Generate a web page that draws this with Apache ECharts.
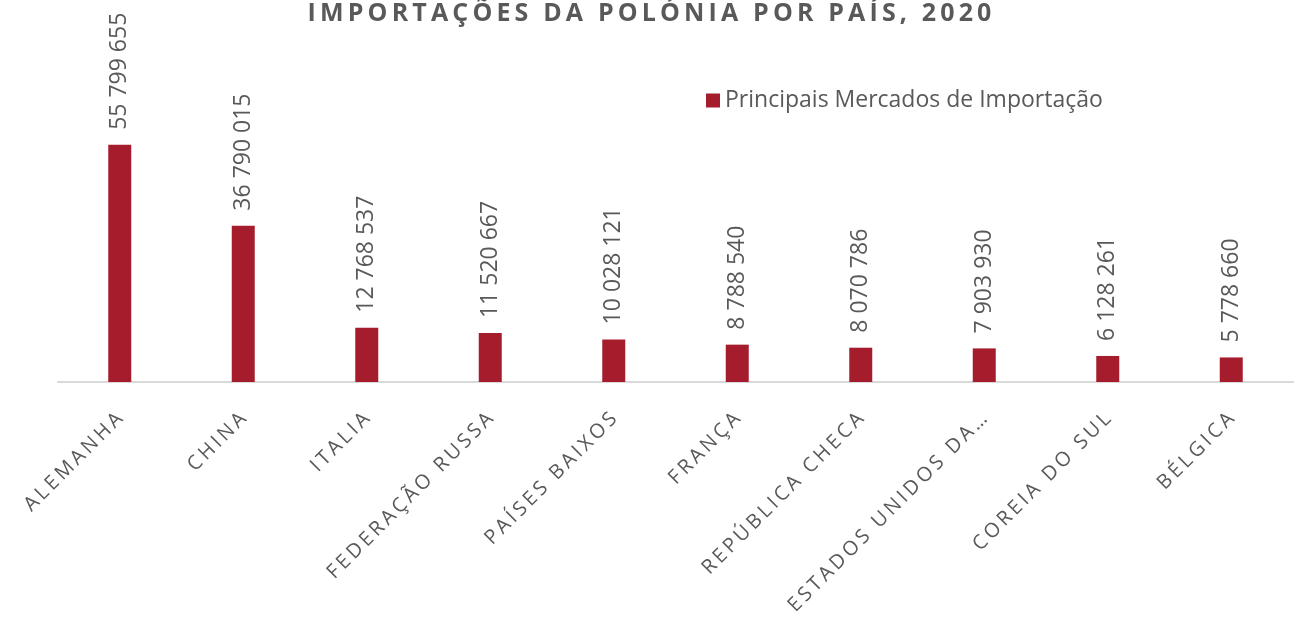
<!DOCTYPE html>
<html>
<head>
<meta charset="utf-8">
<script src="https://cdn.jsdelivr.net/npm/echarts@6/dist/echarts.min.js"></script>
<style>
    html, body { margin: 0; padding: 0; background: #fff; }
    #chart { width: 1299px; height: 620px; }
</style>
</head>
<body>
<div id="chart"></div>
<script>
    let countries = [
        'ALEMANHA', 'CHINA', 'ITALIA', 'FEDERAÇÃO RUSSA', 'PAÍSES BAIXOS',
        'FRANÇA', 'REPÚBLICA CHECA', 'ESTADOS UNIDOS DA AMÉRICA', 'COREIA DO SUL', 'BÉLGICA'
    ];
    let imports = [
        55799655, 36790015, 12768537, 11520667, 10028121,
        8788540, 8070786, 7903930, 6128261, 5778660
    ];

    // widen letters like the spreadsheet's character spacing
    function spaced(text, gap, wordGap) {
        return text.split(' ').map(word => word.split('').join(gap)).join(wordGap);
    }

    function shortName(name) {
        return name.length > 20 ? name.slice(0, 17) + '…' : name;
    }

    function formatNumber(value) {
        return String(value).replace(/\B(?=(\d{3})+(?!\d))/g, ' ');
    }

    let chart = echarts.init(document.getElementById('chart'));
    chart.setOption({
        animation: false,
        title: {
            text: spaced('IMPORTAÇÕES DA POLÓNIA POR PAÍS, 2020', '\u2009', '\u2009 \u2009'),
            left: 'center',
            top: -4,
            textStyle: {
                fontFamily: 'Open Sans',
                fontWeight: 'bold',
                fontSize: 25,
                color: '#595959'
            }
        },
        legend: {
            data: ['Principais Mercados de Importação'],
            left: 701,
            top: 84,
            itemWidth: 14,
            itemHeight: 14,
            icon: 'rect',
            textStyle: {
                fontFamily: 'Open Sans',
                fontSize: 23,
                color: '#595959'
            }
        },
        grid: {
            left: 58,
            right: 6,
            top: 127,
            bottom: 238,
            containLabel: false,
            outerBoundsMode: 'none'
        },
        xAxis: {
            type: 'category',
            data: countries,
            axisLine: { lineStyle: { color: '#d9d9d9', width: 2 } },
            axisTick: { show: false },
            axisLabel: {
                rotate: 45,
                margin: 34,
                interval: 0,
                fontFamily: 'Open Sans',
                fontSize: 20,
                color: '#595959',
                formatter: name => spaced(shortName(name), '\u2009', '\u2009 \u2009')
            }
        },
        yAxis: {
            type: 'value',
            min: 0,
            max: 60000000,
            show: false
        },
        series: [{
            name: 'Principais Mercados de Importação',
            type: 'bar',
            data: imports,
            barWidth: 23,
            itemStyle: { color: '#a51d2d' },
            label: {
                show: true,
                position: 'top',
                rotate: 90,
                align: 'left',
                verticalAlign: 'middle',
                distance: 15,
                fontFamily: 'Open Sans',
                fontSize: 23,
                color: '#595959',
                formatter: p => formatNumber(p.value)
            }
        }]
    });
</script>
</body>
</html>
